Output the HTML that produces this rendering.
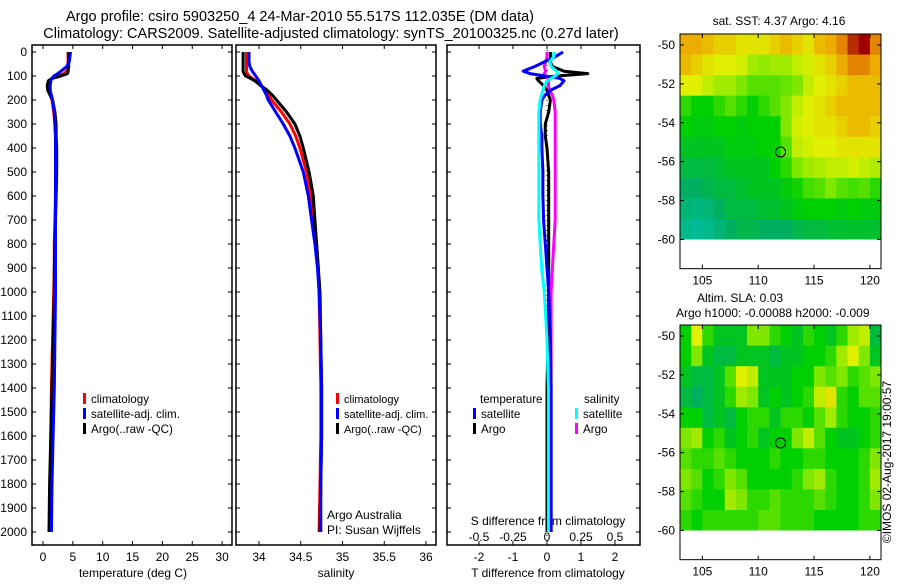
<!DOCTYPE html>
<html><head><meta charset="utf-8"><style>
body{margin:0;background:#fff;}
svg text{font-family:"Liberation Sans",sans-serif;fill:#000;}
</style></head><body>
<svg id="c" width="900" height="580" xmlns="http://www.w3.org/2000/svg">
<text x="300" y="21" font-size="14.5" text-anchor="middle">Argo profile: csiro 5903250_4 24-Mar-2010 55.517S 112.035E (DM data)</text>
<text x="331" y="38" font-size="14.5" text-anchor="middle">Climatology: CARS2009. Satellite-adjusted climatology: synTS_20100325.nc (0.27d later)</text>
<g id="g"></g>
</svg>
<script>
const depths=[0,20,40,60,80,90,100,110,120,140,160,180,200,250,300,350,400,500,600,700,800,900,1000,1200,1400,1600,1800,2000];
const tempArgo=[4.3,4.3,4.3,4.3,4.2,4.1,3.0,1.5,0.9,0.7,0.8,1.2,1.6,2.0,2.2,2.2,2.3,2.3,2.2,2.1,2.0,1.9,1.9,1.7,1.5,1.3,1.1,1.0];
const tempClim=[4.2,4.2,4.2,4.1,4.0,3.5,2.5,1.5,1.0,0.9,0.9,1.2,1.5,1.8,2.0,2.1,2.1,2.1,2.1,2.0,1.9,1.9,1.8,1.6,1.4,1.3,1.2,1.1];
const tempSat=[4.6,4.5,4.4,4.0,3.0,2.5,1.8,1.5,1.3,1.2,1.2,1.4,1.6,1.9,2.0,2.1,2.1,2.1,2.1,2.1,2.1,2.1,2.1,2.0,1.9,1.7,1.5,1.4];
const salArgo=[33.81,33.81,33.81,33.81,33.81,33.82,33.84,33.90,33.95,34.02,34.10,34.16,34.21,34.33,34.43,34.49,34.53,34.60,34.65,34.67,34.69,34.71,34.73,34.74,34.75,34.75,34.74,34.73];
const salClim=[33.85,33.85,33.85,33.85,33.85,33.86,33.88,33.92,33.96,34.02,34.08,34.12,34.15,34.27,34.37,34.44,34.49,34.57,34.62,34.66,34.69,34.71,34.72,34.73,34.74,34.74,34.73,34.72];
const salSat=[33.88,33.88,33.88,33.89,33.92,33.94,33.96,33.98,34.0,34.03,34.06,34.09,34.11,34.2,34.29,34.37,34.43,34.53,34.59,34.63,34.67,34.7,34.72,34.74,34.75,34.75,34.74,34.74];
const dTsat=[0.47,0.24,-0.06,-0.35,-0.7,-0.5,-0.06,0.38,0.5,0.38,0.1,-0.06,-0.15,-0.2,-0.2,-0.15,-0.15,-0.12,-0.12,-0.1,-0.05,0,0.05,0.1,0.12,0.12,0.12,0.12];
const dTargo=[0.1,0.1,0.1,0.15,0.5,1.2,0.3,-0.3,-0.25,-0.1,0,0.05,0.1,0.05,-0.05,-0.05,0,0.05,0.05,0.05,0.05,0.05,0.05,0.03,0,0,0,0];
const dSsat=[0.05,0.05,0.02,0.03,0.07,0.08,0.06,0.03,0,-0.02,-0.03,-0.04,-0.05,-0.06,-0.06,-0.06,-0.06,-0.06,-0.06,-0.06,-0.05,-0.04,-0.02,0,0.01,0.01,0.01,0.01];
const dSargo=[0,0,-0.01,-0.02,-0.01,-0.02,-0.01,0,0.01,0.01,0.02,0.04,0.05,0.06,0.06,0.06,0.06,0.06,0.06,0.06,0.05,0.04,0.03,0.03,0.03,0.03,0.03,0.03];
const depthTicks=[0,100,200,300,400,500,600,700,800,900,1000,1100,1200,1300,1400,1500,1600,1700,1800,1900,2000];
const tempTicks=[0,5,10,15,20,25,30];
const salTicks=[34,34.5,35,35.5,36];
const salTickLabels=["34","34.5","35","35.5","36"];
const dTTicks=[-2,-1,0,1,2];
const dSTicks=[-0.5,-0.25,0,0.25,0.5];
const dSTickLabels=["-0.5","-0.25","0","0.25","0.5"];
const lonTicks=[105,110,115,120];
const latTicks=[-50,-52,-54,-56,-58,-60];
const mapLats=[-50,-51,-52,-53,-54,-55,-56,-57,-58,-59];
const mapLons=[103,104,105,106,107,108,109,110,111,112,113,114,115,116,117,118,119,120];
const sstGrid=[
[.8,.8,.78,.75,.75,.72,.72,.72,.75,.78,.75,.72,.78,.8,.85,.95,1,.85],
[.78,.75,.72,.7,.7,.68,.6,.58,.6,.6,.65,.68,.72,.75,.8,.85,.85,.8],
[.7,.7,.65,.6,.6,.55,.5,.5,.5,.52,.55,.65,.7,.72,.75,.78,.78,.78],
[.45,.4,.4,.45,.5,.45,.4,.45,.5,.55,.65,.7,.72,.75,.78,.78,.78,.78],
[.4,.38,.38,.4,.4,.38,.4,.4,.4,.55,.68,.7,.72,.72,.75,.78,.78,.75],
[.35,.35,.35,.35,.38,.38,.38,.4,.4,.5,.65,.68,.7,.7,.72,.72,.72,.72],
[.3,.3,.3,.32,.35,.35,.35,.35,.4,.45,.55,.6,.62,.65,.65,.68,.65,.62],
[.25,.25,.28,.3,.3,.33,.35,.35,.35,.38,.42,.48,.5,.55,.5,.48,.5,.45],
[.2,.18,.2,.25,.3,.3,.3,.33,.33,.35,.38,.4,.4,.4,.38,.4,.38,.38],
[.15,.12,.15,.2,.25,.28,.28,.25,.25,.25,.28,.3,.3,.32,.33,.33,.33,.33]];
const slaGrid=[
[.4,.7,.45,.35,.35,.35,.55,.55,.45,.4,.35,.45,.4,.35,.45,.6,.65,.3],
[.4,.55,.35,.3,.3,.35,.35,.35,.3,.35,.35,.4,.4,.45,.6,.7,.55,.35],
[.35,.3,.3,.35,.5,.7,.65,.35,.35,.35,.4,.4,.55,.5,.55,.45,.5,.55],
[.3,.25,.3,.35,.45,.6,.55,.35,.4,.35,.4,.45,.65,.72,.45,.4,.5,.5],
[.4,.4,.3,.35,.3,.4,.45,.45,.35,.45,.45,.4,.5,.6,.45,.4,.4,.45],
[.55,.6,.4,.45,.35,.4,.45,.35,.4,.4,.55,.65,.5,.4,.35,.35,.4,.45],
[.5,.45,.45,.5,.45,.4,.4,.4,.45,.4,.4,.45,.45,.4,.4,.4,.45,.55],
[.55,.5,.4,.45,.55,.5,.4,.4,.4,.4,.45,.55,.6,.45,.4,.4,.45,.6],
[.5,.45,.4,.4,.6,.55,.45,.45,.5,.45,.45,.45,.5,.45,.4,.4,.45,.55],
[.45,.4,.45,.45,.45,.45,.45,.5,.5,.45,.45,.45,.4,.4,.4,.4,.45,.45]];
const floatLon=112.0, floatLat=-55.5;

const NS="http://www.w3.org/2000/svg";
const G=document.getElementById('g');
function mk(tag,attrs,parent,txt){const e=document.createElementNS(NS,tag);for(const k in attrs)e.setAttribute(k,attrs[k]);if(txt!==undefined)e.textContent=txt;(parent||G).appendChild(e);return e;}
function label(e,name){
  
  
}
const yD=d=>52+d*0.24;
const pTop=45,pBot=545;
function panel(x0,x1,name){
  const g=mk('g',{});
  
  
  mk('rect',{x:x0,y:pTop,width:x1-x0,height:pBot-pTop,fill:'none',stroke:'#000','stroke-width':1.5},g);
  return g;
}
function line(g,xs,xf,color,name,w){
  const p=depths.map((d,i)=>xf(xs[i]).toFixed(1)+','+yD(d).toFixed(1)).join(' ');
  const e=mk('polyline',{points:p,fill:'none',stroke:color,'stroke-width':w||3,'stroke-linejoin':'round'},g);
  
  
}
function depthTicksFn(g,x0,x1){
  depthTicks.forEach(d=>{const y=yD(d);
    mk('line',{x1:x0,y1:y,x2:x0+4,y2:y,stroke:'#000'},g);
    mk('line',{x1:x1,y1:y,x2:x1-4,y2:y,stroke:'#000'},g);});
}
function xTicks(g,ticks,labels,xf,ly){
  ticks.forEach((t,i)=>{const x=xf(t);
    mk('line',{x1:x,y1:pBot,x2:x,y2:pBot-4,stroke:'#000'},g);
    mk('line',{x1:x,y1:pTop,x2:x,y2:pTop+4,stroke:'#000'},g);
    const e=mk('text',{x:x,y:ly,'font-size':12,'text-anchor':'middle'},g,labels[i]);
    
    });
}
function legend(g,x,y,color,lbl,fs){
  mk('rect',{x:x,y:y-10,width:3,height:11,fill:color},g);
  const e=mk('text',{x:x+8,y:y,'font-size':fs||11.6},g,lbl);
  
  
}
// Panel 1 temperature
const xT=t=>43+t*5.97;
const p1=panel(32,232,'temperature-panel');
depthTicksFn(p1,32,232);
depthTicks.forEach(d=>{const e=mk('text',{x:27,y:yD(d)+4,'font-size':12,'text-anchor':'end'},p1,String(d));
  
  });
xTicks(p1,tempTicks,tempTicks.map(String),xT,561);
label(mk('text',{x:133,y:577,'font-size':12,'text-anchor':'middle'},p1,'temperature (deg C)'),'temperature-axis-title');
line(p1,tempClim,xT,'#f00','temp-climatology-line');
line(p1,tempArgo,xT,'#000','temp-argo-line');
line(p1,tempSat,xT,'#00f','temp-satellite-line');
legend(p1,83,403,'#f00','climatology');
legend(p1,83,418,'#00f','satellite-adj. clim.');
legend(p1,83,433,'#000','Argo(..raw -QC)');
// Panel 2 salinity
const xS=s=>259+(s-34)*83.5;
const p2=panel(236,436,'salinity-panel');
depthTicksFn(p2,236,436);
xTicks(p2,salTicks,salTickLabels,xS,561);
label(mk('text',{x:336,y:577,'font-size':12,'text-anchor':'middle'},p2,'salinity'),'salinity-axis-title');
line(p2,salClim,xS,'#f00','sal-climatology-line');
line(p2,salArgo,xS,'#000','sal-argo-line');
line(p2,salSat,xS,'#00f','sal-satellite-line');
legend(p2,336,403,'#f00','climatology',11);
legend(p2,336,418,'#00f','satellite-adj. clim.',11);
legend(p2,336,433,'#000','Argo(..raw -QC)',11);
label(mk('text',{x:327,y:519,'font-size':12},p2,'Argo Australia'),'argo-australia-note');
label(mk('text',{x:327,y:534,'font-size':12},p2,'PI: Susan Wijffels'),'pi-note');
// Panel 3 differences
const xdT=v=>547+v*34;
const xdS=v=>547+v*136;
const p3=panel(447,640,'difference-panel');
depthTicksFn(p3,447,640);
xTicks(p3,dTTicks,dTTicks.map(String),xdT,561);
dSTicks.forEach((t,i)=>{const e=mk('text',{x:xdS(t),y:541,'font-size':12,'text-anchor':'middle'},p3,dSTickLabels[i]);
  
  });
label(mk('text',{x:548,y:525,'font-size':12,'text-anchor':'middle'},p3,'S difference from climatology'),'s-diff-axis-title');
label(mk('text',{x:548,y:577,'font-size':12,'text-anchor':'middle'},p3,'T difference from climatology'),'t-diff-axis-title');
mk('line',{x1:547,y1:pTop,x2:547,y2:pBot,stroke:'#000','stroke-dasharray':'1,4'},p3);
line(p3,dTargo,xdT,'#000','t-diff-argo-line');
line(p3,dSargo,xdS,'#f0f','s-diff-argo-line');
line(p3,dTsat,xdT,'#00f','t-diff-satellite-line');
line(p3,dSsat,xdS,'#0ff','s-diff-satellite-line');
label(mk('text',{x:480,y:403,'font-size':11.6},p3,'temperature'),'legend-group-temperature');
label(mk('text',{x:584,y:403,'font-size':11.6},p3,'salinity'),'legend-group-salinity');
legend(p3,473,418,'#00f','satellite');
legend(p3,473,433,'#000','Argo');
legend(p3,575,418,'#0ff','satellite');
legend(p3,575,433,'#f0f','Argo');
// Maps
const stops=[[0,[0,200,200]],[.25,[0,176,96]],[.4,[0,208,0]],[.55,[128,232,0]],[.7,[224,240,0]],[.82,[240,160,0]],[1,[160,0,0]]];
function cmap(v){for(let i=1;i<stops.length;i++){if(v<=stops[i][0]){const a=stops[i-1],b=stops[i],f=(v-a[0])/(b[0]-a[0]);
  return 'rgb('+a[1].map((c,k)=>Math.round(c+(b[1][k]-c)*f)).join(',')+')';}}return 'rgb(160,0,0)';}
function map(name,grid,yTop){
  const g=mk('g',{});
  
  
  const xL=lon=>680+(lon-103)*11.17;
  const yL=lat=>yTop+11+(-50-lat)*19.45;
  grid.forEach((row,r)=>row.forEach((v,c)=>{
    const x0=xL(mapLons[c]),y0=yL(-49.44+(mapLats[r]+50)*1.056);
    const cell=mk('rect',{x:x0.toFixed(1),y:y0.toFixed(1),width:11.7,height:21.5,fill:cmap(v)},g);
    
    
  }));
  const bx0=680,bx1=881,by0=yTop,by1=yL(-61.5);
  mk('rect',{x:bx0,y:yL(-60),width:bx1-bx0,height:by1-yL(-60)+2,fill:'#fff'},g);
  mk('rect',{x:bx0-2,y:by0-12,width:bx1-bx0+14,height:12,fill:'#fff'},g);
  mk('rect',{x:bx1,y:by0-2,width:14,height:by1-by0+4,fill:'#fff'},g);
  mk('rect',{x:bx0,y:by0,width:bx1-bx0,height:by1-by0,fill:'none',stroke:'#000'},g);
  lonTicks.forEach(t=>{const x=xL(t);
    mk('line',{x1:x,y1:by1,x2:x,y2:by1-4,stroke:'#000'},g);
    mk('line',{x1:x,y1:by0,x2:x,y2:by0+4,stroke:'#000'},g);
    const e=mk('text',{x:x,y:by1+16,'font-size':12,'text-anchor':'middle'},g,String(t));
    
    });
  latTicks.forEach(t=>{const y=yL(t);
    mk('line',{x1:bx0,y1:y,x2:bx0+4,y2:y,stroke:'#000'},g);
    mk('line',{x1:bx1,y1:y,x2:bx1-4,y2:y,stroke:'#000'},g);
    const e=mk('text',{x:bx0-5,y:y+4,'font-size':12,'text-anchor':'end'},g,String(t));
    
    });
  const m=mk('circle',{cx:xL(floatLon),cy:yL(floatLat),r:5,fill:'none',stroke:'#000'},g);
  
  
}
map('sst-map',sstGrid,34);
map('sla-map',slaGrid,325);
label(mk('text',{x:779,y:25,'font-size':12,'text-anchor':'middle'},G,'sat. SST: 4.37 Argo: 4.16'),'sst-map-title');
label(mk('text',{x:697,y:302,'font-size':12},G,'Altim. SLA: 0.03'),'sla-map-title');
label(mk('text',{x:676,y:317,'font-size':12},G,'Argo h1000: -0.00088 h2000: -0.009'),'sla-map-subtitle');
label(mk('text',{x:0,y:0,'font-size':12,'text-anchor':'middle',transform:'translate(891,462) rotate(-90)'},G,'©IMOS 02-Aug-2017 19:00:57'),'copyright-stamp');
</script>
</body></html>
